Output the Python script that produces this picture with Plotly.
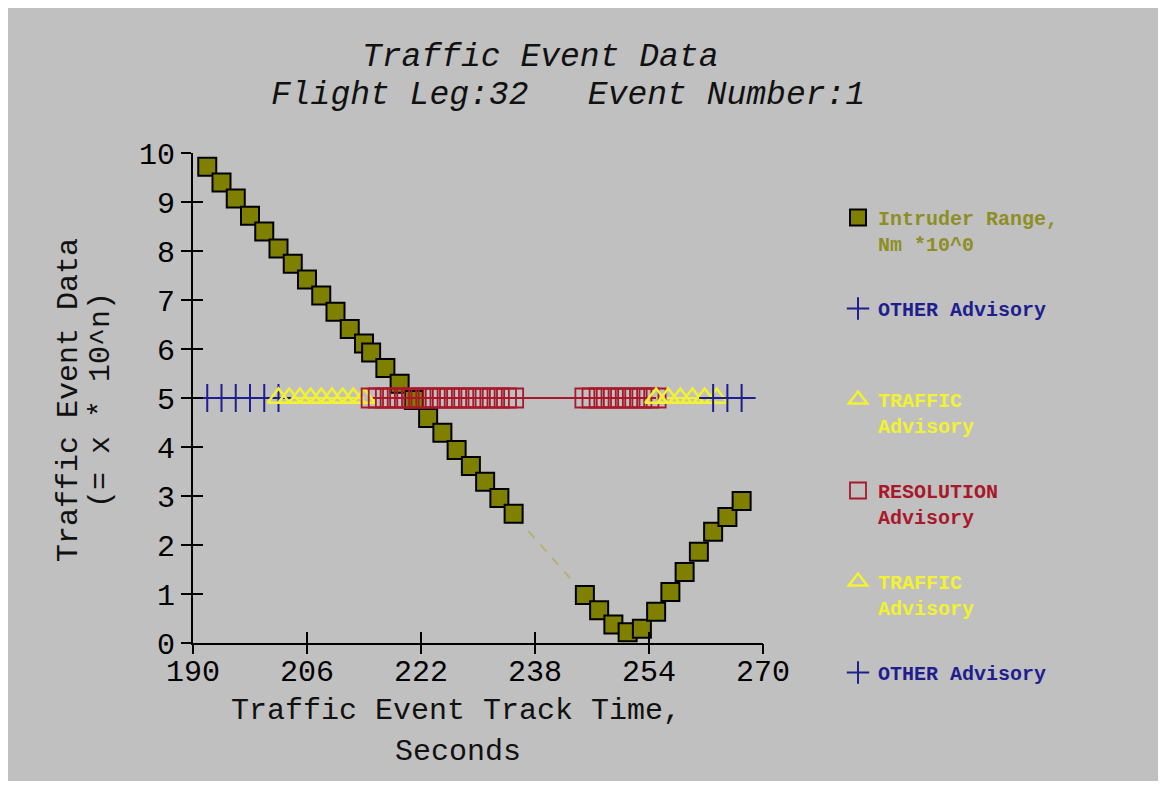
import plotly.graph_objects as go

# ---------------- data ----------------
intruder_time = [192, 194, 196, 198, 200, 202, 204, 206, 208, 210, 212, 214, 215, 217,
                 219, 221, 223, 225, 227, 229, 231, 233, 235,
                 245, 247, 249, 251, 253, 255, 257, 259, 261, 263, 265, 267]
intruder_range = [9.72, 9.40, 9.07, 8.72, 8.40, 8.05, 7.74, 7.42, 7.09, 6.76, 6.41, 6.11, 5.93, 5.61,
                  5.29, 4.96, 4.59, 4.29, 3.94, 3.61, 3.29, 2.96, 2.64,
                  0.98, 0.67, 0.38, 0.22, 0.29, 0.64, 1.04, 1.45, 1.86, 2.27, 2.57, 2.90]

other1_time = [192, 194, 196, 198, 200, 202]
other1_level = [5, 5, 5, 5, 5, 5]

traffic1_time = [202, 203.5, 205, 206.5, 208, 209.5, 211, 212.5, 214]
traffic1_level = [5, 5, 5, 5, 5, 5, 5, 5, 5]

resolution_time = [215, 216, 217, 218, 219, 220, 221, 222, 223, 224, 225, 226, 227, 228, 229,
                   230, 231, 232, 233, 234, 235,
                   245, 246, 247, 248, 249, 250, 251, 252, 253, 254, 255]
resolution_level = [5, 5, 5, 5, 5, 5, 5, 5, 5, 5, 5, 5, 5, 5, 5,
                    5, 5, 5, 5, 5, 5,
                    5, 5, 5, 5, 5, 5, 5, 5, 5, 5, 5]

traffic2_time = [255, 256.7, 258.4, 260.1, 261.8, 263.5]
traffic2_level = [5, 5, 5, 5, 5, 5]

other2_time = [263, 265, 267]
other2_level = [5, 5, 5]

x_ticks = [190, 206, 222, 238, 254, 270]
y_ticks = [0, 1, 2, 3, 4, 5, 6, 7, 8, 9, 10]

title_line1 = "Traffic Event Data"
title_line2 = "Flight Leg:32&nbsp;&nbsp;&nbsp;Event Number:1"
x_title = ["Traffic Event Track Time,", "Seconds"]
y_title = ["Traffic Event Data", "(= x * 10^n)"]

# ---------------- style ----------------
FONT = "Liberation Mono"
OLIVE = "#808000"
OLIVE_TXT = "#8e8e24"
BLUE = "#1e1e8e"
YELLOW = "#f2f230"
RED = "#a8182a"
BG = "#c0c0c0"

OFF = 8  # page body margin
W, H = 1166 - 2 * OFF, 789 - 2 * OFF
# plot area in page pixels
PL, PR, PT, PB = 193, 763, 153, 643
L, R, T, B = PL - OFF, PR - OFF, PT - OFF, PB - OFF


def px_x(p):
    return (p - OFF - L) / (R - L)


def px_y(p):
    return (B - (p - OFF)) / (B - T)


def lbl(lines, color):
    return "<br>".join("<b><span style='color:%s'>%s</span></b>" % (color, s) for s in lines)


fig = go.Figure()

# connecting lines (no legend)
fig.add_trace(go.Scatter(x=other1_time, y=other1_level, mode="lines",
                         line=dict(color=BLUE, width=2), showlegend=False, hoverinfo="skip"))
fig.add_trace(go.Scatter(x=traffic1_time, y=traffic1_level, mode="lines",
                         line=dict(color=YELLOW, width=2), showlegend=False, hoverinfo="skip"))
fig.add_trace(go.Scatter(x=traffic2_time, y=traffic2_level, mode="lines",
                         line=dict(color=YELLOW, width=2), showlegend=False, hoverinfo="skip"))
fig.add_trace(go.Scatter(x=other2_time, y=other2_level, mode="lines",
                         line=dict(color=BLUE, width=2), showlegend=False, hoverinfo="skip"))
fig.add_trace(go.Scatter(x=intruder_time, y=intruder_range, mode="lines",
                         line=dict(color="#b8b070", width=2, dash="dash"),
                         showlegend=False, hoverinfo="skip"))

# intruder range
fig.add_trace(go.Scatter(x=intruder_time, y=intruder_range, mode="markers",
                         name=lbl(["Intruder Range,", "Nm *10^0"], OLIVE_TXT),
                         marker=dict(symbol="square", size=18, color=OLIVE,
                                     line=dict(color="black", width=2)),
                         legend="legend", legendgroup="g1", legendrank=1, cliponaxis=False))

fig.add_trace(go.Scatter(x=resolution_time, y=resolution_level, mode="lines",
                         line=dict(color=RED, width=2), showlegend=False, hoverinfo="skip"))

# advisory markers
fig.add_trace(go.Scatter(x=other1_time, y=other1_level, mode="markers",
                         name=lbl(["OTHER Advisory", "&nbsp;"], BLUE),
                         marker=dict(symbol="cross-thin", size=20, color=BLUE,
                                     line=dict(color=BLUE, width=2)),
                         legend="legend", legendgroup="g2", legendrank=2))
fig.add_trace(go.Scatter(x=traffic1_time, y=traffic1_level, mode="markers",
                         name=lbl(["TRAFFIC", "Advisory"], YELLOW),
                         marker=dict(symbol="triangle-up-open", size=19, color=YELLOW,
                                     line=dict(color=YELLOW, width=2.5)),
                         legend="legend", legendgroup="g3", legendrank=3))
fig.add_trace(go.Scatter(x=resolution_time, y=resolution_level, mode="markers",
                         name=lbl(["RESOLUTION", "Advisory"], RED),
                         marker=dict(symbol="square-open", size=19, color=RED,
                                     line=dict(color=RED, width=1.8)),
                         legend="legend2", legendgroup="g4", legendrank=4))
fig.add_trace(go.Scatter(x=traffic2_time, y=traffic2_level, mode="markers",
                         name=lbl(["TRAFFIC", "Advisory"], YELLOW),
                         marker=dict(symbol="triangle-up-open", size=19, color=YELLOW,
                                     line=dict(color=YELLOW, width=2.5)),
                         legend="legend2", legendgroup="g5", legendrank=5))
fig.add_trace(go.Scatter(x=other2_time, y=other2_level, mode="markers",
                         name=lbl(["OTHER Advisory"], BLUE),
                         marker=dict(symbol="cross-thin", size=20, color=BLUE,
                                     line=dict(color=BLUE, width=2)),
                         legend="legend2", legendgroup="g6", legendrank=6))

# dummy trace to carry the overlay axes (second half of the crossing ticks)
fig.add_trace(go.Scatter(x=[], y=[], xaxis="x2", yaxis="y2", showlegend=False, hoverinfo="skip"))

axis_common = dict(showgrid=False, zeroline=False, tickcolor="black", tickwidth=2,
                   tickfont=dict(family=FONT, size=30, color="black"))

legend_common = dict(xanchor="left", yanchor="top", bgcolor="rgba(0,0,0,0)",
                     font=dict(family=FONT, size=20), traceorder="grouped",
                     tracegroupgap=36, valign="top", itemsizing="trace")

fig.update_layout(
    width=W, height=H,
    margin=dict(l=L, r=W - R, t=T, b=H - B, autoexpand=False),
    paper_bgcolor=BG,
    plot_bgcolor=BG,
    xaxis=dict(range=[190, 270], tickvals=x_ticks, ticks="inside", ticklen=11,
               showline=True, linecolor="black", linewidth=2, **axis_common),
    yaxis=dict(range=[0, 10], tickvals=y_ticks, ticks="outside", ticklen=10,
               showline=True, linecolor="black", linewidth=2, **axis_common),
    xaxis2=dict(overlaying="x", matches="x", anchor="y2", tickvals=x_ticks, ticks="outside",
                ticklen=10, showticklabels=False, showline=False, **axis_common),
    yaxis2=dict(overlaying="y", matches="y", anchor="x2", tickvals=y_ticks, ticks="inside",
                ticklen=10, showticklabels=False, showline=False, **axis_common),
    legend=dict(x=px_x(838), y=px_y(198), **legend_common),
    legend2=dict(x=px_x(838), y=px_y(471), **legend_common),
    showlegend=True,
)

ann_font_title = dict(family=FONT, size=33, color="#111111", style="italic")
ann_font_axis = dict(family=FONT, size=30, color="#111111")
annotations = [
    dict(text=title_line1, x=px_x(540), y=px_y(57), font=ann_font_title),
    dict(text=title_line2, x=px_x(568), y=px_y(96), font=ann_font_title),
    dict(text=x_title[0], x=px_x(456), y=px_y(711), font=ann_font_axis),
    dict(text=x_title[1], x=px_x(458), y=px_y(752), font=ann_font_axis),
    dict(text=y_title[0], x=px_x(69), y=px_y(400), font=ann_font_axis, textangle=-90),
    dict(text=y_title[1], x=px_x(101), y=px_y(400), font=ann_font_axis, textangle=-90),
]
for a in annotations:
    a.update(xref="paper", yref="paper", showarrow=False, xanchor="center", yanchor="middle")
fig.update_layout(annotations=annotations)

fig.write_html("out.html")
